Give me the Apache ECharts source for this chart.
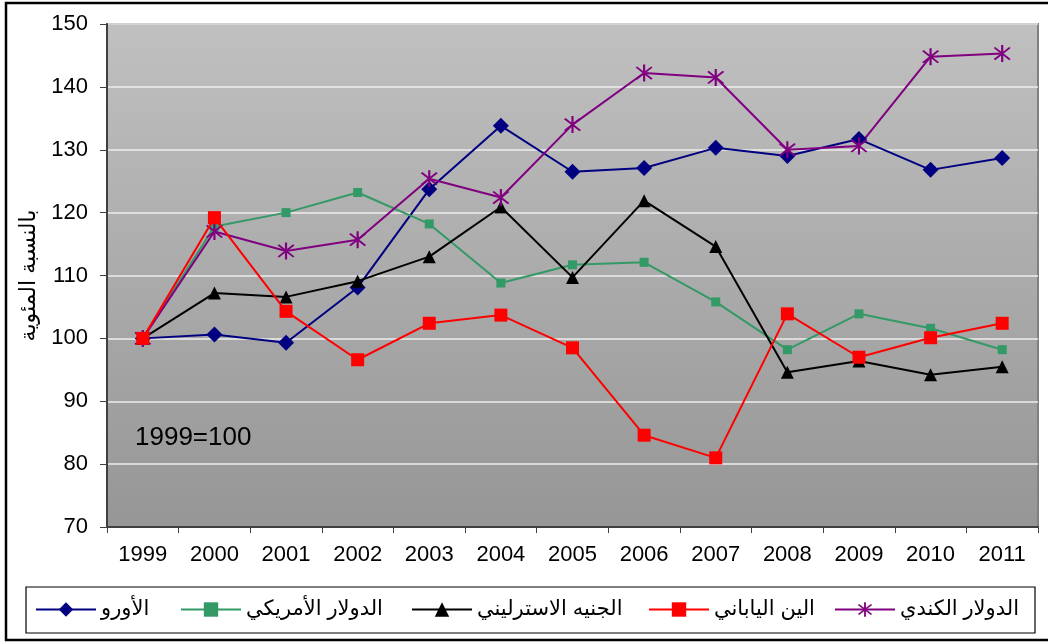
<!DOCTYPE html>
<html>
<head>
<meta charset="utf-8">
<script src="https://cdn.jsdelivr.net/npm/echarts@6/dist/echarts.min.js"></script>
<style>html,body{margin:0;padding:0;background:#fff;}#c{width:1048px;height:642px;}</style>
</head>
<body>
<div id="c"></div>
<script>
var years = ['1999','2000','2001','2002','2003','2004','2005','2006','2007','2008','2009','2010','2011'];
var seriesNames = ['الأورو','الدولار الأمريكي','الجنيه الاسترليني','الين الياباني','الدولار الكندي'];
var euro = [100, 100.6, 99.3, 108.1, 123.7, 133.8, 126.5, 127.1, 130.3, 129.0, 131.7, 126.8, 128.7];
var usd  = [100, 117.8, 120.0, 123.2, 118.2, 108.8, 111.7, 112.1, 105.8, 98.2, 103.9, 101.6, 98.2];
var gbp  = [100, 107.2, 106.6, 109.1, 113.0, 120.9, 109.7, 121.9, 114.6, 94.6, 96.4, 94.2, 95.5];
var jpy  = [100, 119.2, 104.3, 96.6, 102.4, 103.7, 98.5, 84.6, 81.0, 103.9, 97.0, 100.1, 102.4];
var cad  = [100, 117.0, 113.9, 115.7, 125.4, 122.4, 134.0, 142.2, 141.5, 130.0, 130.6, 144.8, 145.3];
var yTicks = {min: 70, max: 150, interval: 10};
var yAxisName = 'بالنسبة المئوية';
var baseNote = '1999=100';

var FONT = '"Liberation Sans", Arial, "DejaVu Sans", sans-serif';
var asterisk = 'path://M-1,-10L1,-10L1,10L-1,10Z M-7.8,-6.4L-6.4,-7.8L7.8,6.4L6.4,7.8Z M6.4,-7.8L7.8,-6.4L-6.4,7.8L-7.8,6.4Z';

var styles = [
  {data: euro, color: '#000080', symbol: 'diamond', size: 16},
  {data: usd,  color: '#339966', symbol: 'rect', size: 9},
  {data: gbp,  color: '#000000', symbol: 'triangle', size: 13},
  {data: jpy,  color: '#ff0000', symbol: 'rect', size: 13},
  {data: cad,  color: '#800080', symbol: asterisk, size: 17}
];
var legendLefts = [35, 180, 411, 648, 834];

var chart = echarts.init(document.getElementById('c'), null, {renderer: 'canvas'});
var option = {
  animation: false,
  backgroundColor: '#ffffff',
  grid: {
    left: 107, top: 24, right: 10, bottom: 115,
    show: true,
    backgroundColor: new echarts.graphic.LinearGradient(0, 0, 0, 1, [
      {offset: 0, color: '#c0c0c0'}, {offset: 1, color: '#969696'}
    ]),
    borderColor: '#808080', borderWidth: 2
  },
  xAxis: {
    type: 'category',
    data: years,
    boundaryGap: true,
    axisLine: {lineStyle: {color: '#404040', width: 2}},
    axisTick: {show: true, length: 6, lineStyle: {color: '#404040', width: 1}},
    axisLabel: {color: '#000', fontSize: 22, fontFamily: FONT, margin: 17},
    splitLine: {show: false}
  },
  yAxis: {
    type: 'value',
    min: yTicks.min, max: yTicks.max, interval: yTicks.interval,
    name: yAxisName,
    nameLocation: 'middle',
    nameRotate: 90,
    nameGap: 66,
    nameTextStyle: {color: '#000', fontSize: 22, fontFamily: FONT},
    axisLine: {show: true, lineStyle: {color: '#404040', width: 2}},
    axisTick: {show: true, length: 7, lineStyle: {color: '#404040', width: 1}},
    axisLabel: {color: '#000', fontSize: 22, fontFamily: FONT, margin: 19},
    splitLine: {show: true, lineStyle: {color: '#eeeeee', width: 1.5}}
  },
  legend: seriesNames.map(function (n, i) {
    return {
      data: [n], left: legendLefts[i], top: 599,
      itemWidth: 60, itemHeight: 18, itemGap: 0, padding: 0,
      textStyle: {color: '#000', fontSize: 21, fontFamily: FONT}
    };
  }),
  graphic: [
    {type: 'rect', shape: {x: 6, y: 3, width: 1060, height: 637}, style: {fill: 'none', stroke: '#000', lineWidth: 2.5}, silent: true},
    {type: 'rect', shape: {x: 26, y: 587, width: 1009, height: 46}, style: {fill: 'none', stroke: '#000', lineWidth: 1.2}, silent: true},
    {type: 'text', left: 135, top: 425, style: {text: baseNote, fill: '#000', font: '26px ' + FONT}, silent: true}
  ],
  series: styles.map(function (s, i) {
    return {
      name: seriesNames[i],
      type: 'line',
      data: s.data,
      symbol: s.symbol,
      symbolSize: s.size,
      showAllSymbol: true,
      lineStyle: {color: s.color, width: 2},
      itemStyle: {color: s.color, borderWidth: 0},
      z: 2 + (i === 3 ? 1 : 0)
    };
  })
};
chart.setOption(option);
</script>
</body>
</html>
